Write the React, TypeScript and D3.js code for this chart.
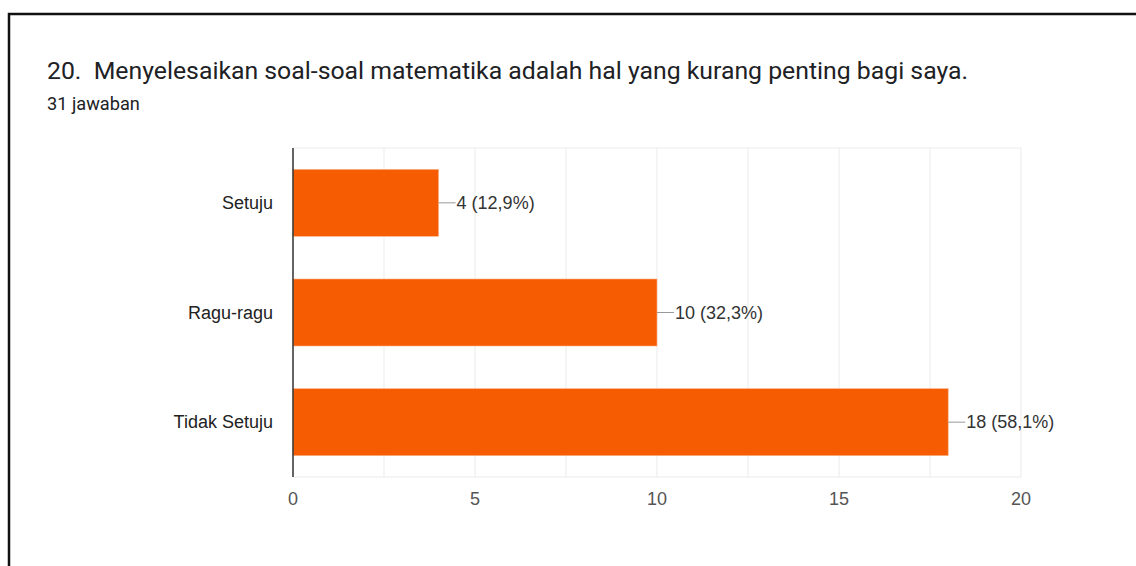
import React, { useRef, useEffect } from "react";
import * as d3 from "d3";

const title =
  "20.  Menyelesaikan soal-soal matematika adalah hal yang kurang penting bagi saya.";
const subtitle = "31 jawaban";

const categories = ["Setuju", "Ragu-ragu", "Tidak Setuju"];
const counts = [4, 10, 18];
const percents = ["12,9%", "32,3%", "58,1%"];
const tickValues = [0, 5, 10, 15, 20];

const W = 1136;
const H = 566;
const plot = { left: 293, right: 1021, top: 148, bottom: 477 };
const barColor = "#f65c02";

const App = () => {
  const ref = useRef<SVGSVGElement>(null);

  useEffect(() => {
    const svg = d3.select(ref.current);
    svg.selectAll("*").remove();

    // outer card border (runs off the right and bottom of the picture)
    svg
      .append("rect")
      .attr("x", 9)
      .attr("y", 14)
      .attr("width", W + 20)
      .attr("height", H + 20)
      .attr("fill", "#fff")
      .attr("stroke", "#111")
      .attr("stroke-width", 2.5);

    svg
      .append("text")
      .attr("x", 47)
      .attr("y", 79)
      .attr("font-family", "Roboto")
      .attr("font-size", 24.8)
      .attr("fill", "#202124")
      .attr("xml:space", "preserve")
      .style("white-space", "pre")
      .text(title);

    svg
      .append("text")
      .attr("x", 47)
      .attr("y", 110)
      .attr("font-family", "Roboto")
      .attr("font-size", 18.2)
      .attr("fill", "#202124")
      .text(subtitle);

    const x = d3.scaleLinear().domain([0, 20]).range([plot.left, plot.right]);
    const y = d3
      .scaleBand()
      .domain(categories)
      .range([plot.top, plot.bottom])
      .paddingInner(0.389)
      .paddingOuter(0.1945);

    const g = svg.append("g").attr("font-family", "'Liberation Sans', Arial");

    // gridlines every 2.5
    g.selectAll(".grid")
      .data(d3.range(0, 20.01, 2.5))
      .enter()
      .append("line")
      .attr("x1", (d) => x(d))
      .attr("x2", (d) => x(d))
      .attr("y1", plot.top)
      .attr("y2", plot.bottom)
      .attr("stroke", "#ebebeb")
      .attr("stroke-width", 1);

    g.append("line")
      .attr("x1", plot.left)
      .attr("x2", plot.right)
      .attr("y1", plot.top)
      .attr("y2", plot.top)
      .attr("stroke", "#ebebeb");
    g.append("line")
      .attr("x1", plot.left)
      .attr("x2", plot.right)
      .attr("y1", plot.bottom)
      .attr("y2", plot.bottom)
      .attr("stroke", "#ebebeb");

    g.selectAll(".bar")
      .data(categories)
      .enter()
      .append("rect")
      .attr("x", x(0))
      .attr("y", (d) => y(d)!)
      .attr("width", (d, i) => x(counts[i]) - x(0))
      .attr("height", y.bandwidth())
      .attr("fill", barColor)
      .attr("stroke", "#fbb48a")
      .attr("stroke-width", 0.6);

    // baseline
    g.append("line")
      .attr("x1", plot.left)
      .attr("x2", plot.left)
      .attr("y1", plot.top)
      .attr("y2", plot.bottom)
      .attr("stroke", "#333")
      .attr("stroke-width", 1.5);

    // category labels
    g.selectAll(".cat")
      .data(categories)
      .enter()
      .append("text")
      .attr("x", 273)
      .attr("y", (d) => y(d)! + y.bandwidth() / 2)
      .attr("dy", "0.35em")
      .attr("text-anchor", "end")
      .attr("font-size", 18)
      .attr("fill", "#222")
      .text((d) => d);

    // value labels with leader lines
    categories.forEach((c, i) => {
      const cy = y(c)! + y.bandwidth() / 2;
      const x0 = x(counts[i]);
      g.append("line")
        .attr("x1", x0)
        .attr("x2", x0 + 17)
        .attr("y1", cy)
        .attr("y2", cy)
        .attr("stroke", "#999")
        .attr("stroke-width", 1);
      g.append("text")
        .attr("x", x0 + 18)
        .attr("y", cy)
        .attr("dy", "0.35em")
        .attr("font-size", 18)
        .attr("fill", "#333")
        .text(`${counts[i]} (${percents[i]})`);
    });

    // x tick labels
    g.selectAll(".tick")
      .data(tickValues)
      .enter()
      .append("text")
      .attr("x", (d) => x(d))
      .attr("y", 505)
      .attr("text-anchor", "middle")
      .attr("font-size", 18)
      .attr("fill", "#555")
      .text((d) => d);
  }, []);

  return (
    <svg
      ref={ref}
      width={W}
      height={H}
      style={{ position: "absolute", left: 0, top: 0, background: "#fff" }}
    ></svg>
  );
};

export default App;
